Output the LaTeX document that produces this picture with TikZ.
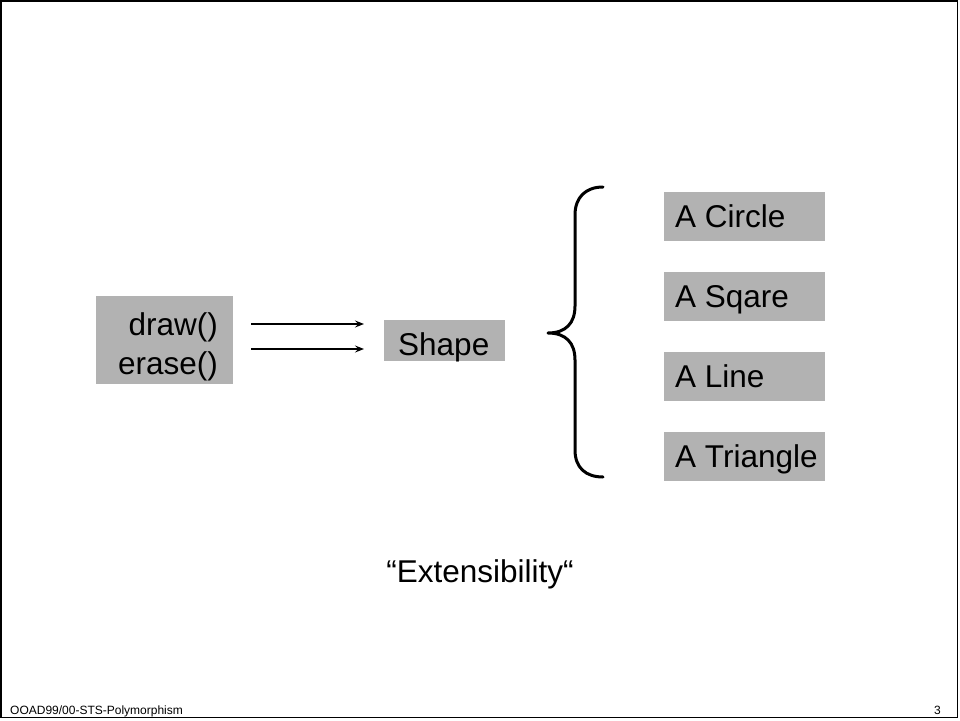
\documentclass[tikz,border=0pt]{standalone}
\usepackage{fontspec}
\setmainfont{Liberation Sans}
\usetikzlibrary{arrows.meta,calc}

\definecolor{boxgray}{HTML}{B2B2B2}

\tikzset{
  graybox/.style={fill=boxgray, draw=none, inner sep=0pt, anchor=north west},
  bigtext/.style={inner sep=0pt, font=\fontsize{31.5}{37}\selectfont},
  foot/.style={inner sep=0pt, font=\fontsize{12}{14}\selectfont},
  msg/.style={line width=2pt, -{Stealth[length=9pt,width=7pt,inset=3.5pt]}},
  brace/.style={line width=3pt, line cap=round, line join=round}
}

\begin{document}
\begin{tikzpicture}[x=1pt, y=-1pt]
  \useasboundingbox (0,0) rectangle (960,720);

  % page frame
  \draw[line width=1.8pt] (1,1) rectangle (957.5,717.5);

  % operations box
  \node[graybox, minimum width=137pt, minimum height=88pt] (ops) at (96,296) {};
  \node[bigtext, anchor=base east] (opdraw) at (218,335) {draw()};
  \node[bigtext, anchor=base east] (operase) at (218,374) {erase()};

  % abstract class box
  \node[graybox, minimum width=121pt, minimum height=41pt] (shape) at (384,320) {};
  \node[bigtext, anchor=base west] (shapelbl) at (398,355) {Shape};

  % messages sent to Shape
  \coordinate (m1s) at (251,324);
  \coordinate (m1e) at (364,324);
  \coordinate (m2s) at (251,349);
  \coordinate (m2e) at (364,349);
  \draw[msg] (m1s) -- (m1e);
  \draw[msg] (m2s) -- (m2e);

  % concrete shapes
  \node[graybox, minimum width=161pt, minimum height=49pt] (circ) at (664,192) {};
  \node[bigtext, anchor=base west] (circlbl) at (675,227) {A Circle};
  \node[graybox, minimum width=161pt, minimum height=49pt] (sq) at (664,272) {};
  \node[bigtext, anchor=base west] (sqlbl) at (675,307) {A Sqare};
  \node[graybox, minimum width=161pt, minimum height=49pt] (ln) at (664,352) {};
  \node[bigtext, anchor=base west] (lnlbl) at (675,387) {A Line};
  \node[graybox, minimum width=161pt, minimum height=49pt] (tri) at (664,432) {};
  \node[bigtext, anchor=base west] (trilbl) at (675,467) {A Triangle};

  % curly brace grouping the concrete shapes
  \draw[brace] (603,187)
    .. controls (586,187) and (575,197) .. (575,215)
    -- (575,306)
    .. controls (575,323) and (566,333) .. (548,333)
    .. controls (566,333) and (575,343) .. (575,360)
    -- (575,450)
    .. controls (575,468) and (586,477) .. (603,477);

  % caption
  \node[bigtext, anchor=base] (caption) at (480,582) {“Extensibility“};

  % footer
  \node[foot, anchor=base west] (footl) at (10,714) {OOAD99/00-STS-Polymorphism};
  \node[foot, anchor=base east] (footr) at (941,714) {3};
\end{tikzpicture}
\end{document}
